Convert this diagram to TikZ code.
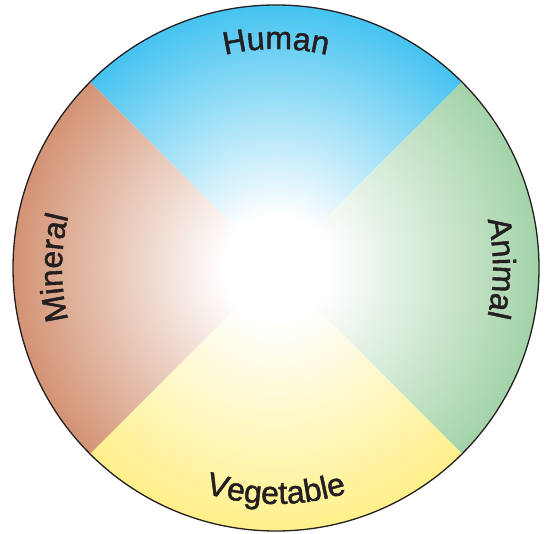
\documentclass[tikz,border=0pt]{standalone}
\usepackage{fontspec}
\newfontfamily\wheelfamily{Liberation Sans}[FakeBold=1.4]
\usetikzlibrary{decorations.text}
\definecolor{wheelBlue}{HTML}{45C3F0}
\definecolor{wheelGreen}{HTML}{A3D3A8}
\definecolor{wheelYellow}{HTML}{FFF08A}
\definecolor{wheelBrown}{HTML}{D39374}
\definecolor{wheelInk}{HTML}{231F20}
\newcommand{\DeclareWheelShade}[2]{%
  \pgfdeclareradialshading{#1}{\pgfpoint{0bp}{0bp}}{%
    color(0bp)=(white); color(5bp)=(white); color(25bp)=(#2); color(50bp)=(#2)}}
\DeclareWheelShade{humanShade}{wheelBlue}
\DeclareWheelShade{animalShade}{wheelGreen}
\DeclareWheelShade{vegetableShade}{wheelYellow}
\DeclareWheelShade{mineralShade}{wheelBrown}
\newcommand{\WheelFont}{\wheelfamily\fontsize{32}{38}\selectfont}
\tikzset{
  wheel rim/.style={draw=wheelInk, line width=1.3pt},
  wheel label/.style={decorate,
    decoration={text along path, text align=center, text color=wheelInk,
      text={|\WheelFont|#1}}}
}
\newcommand{\WheelQuadrant}[2]{%
  \begin{scope}
    \clip (c) -- ([shift={({#2-45}:400)}]c) -- ([shift={({#2+45}:400)}]c) -- cycle;
    \shade[shading=#1] (c) circle (263);
  \end{scope}}

\begin{document}
\begin{tikzpicture}[x=1pt,y=1pt]
    \useasboundingbox (0,0) rectangle (546,534);
    \coordinate (c) at (276,266);
    \foreach \quadShade/\quadAngle in {humanShade/90,animalShade/0,vegetableShade/270,mineralShade/180}
      {\WheelQuadrant{\quadShade}{\quadAngle}}
    \draw[wheel rim] (c) circle (263);
    \path[wheel label=Human] ([shift={(130:219)}]c) arc[start angle=130, end angle=50, radius=219];
    \path[wheel label=Animal] ([shift={(25:217)}]c) arc[start angle=25, end angle=-25, radius=217];
    \path[wheel label=Vegetable] ([shift={(235:236)}]c) arc[start angle=235, end angle=305, radius=236];
    \path[wheel label=Mineral] ([shift={(205:214)}]c) arc[start angle=205, end angle=155, radius=214];
  \end{tikzpicture}
\end{document}
